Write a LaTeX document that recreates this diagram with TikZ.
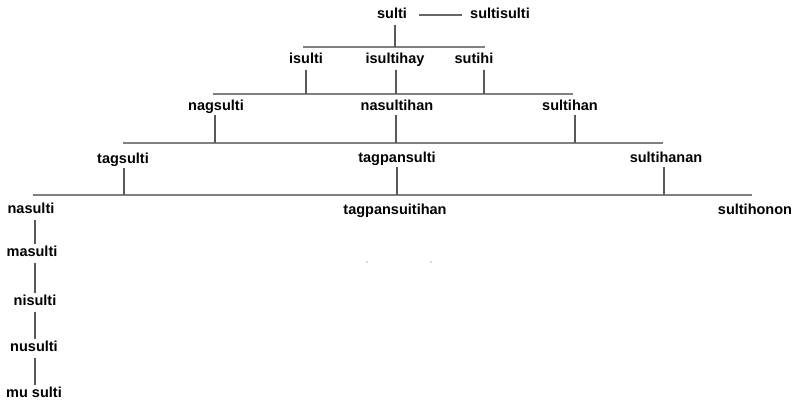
\documentclass[tikz,border=0pt]{standalone}
\usepackage{fontspec}
\setmainfont{Liberation Sans}
\begin{document}
\begin{tikzpicture}[x=1pt,y=-1pt,
  lbl/.style={font=\fontsize{14.5}{16}\selectfont\bfseries, inner sep=0pt, text height=10pt, text depth=3pt, outer sep=3pt, text=black},
  bus/.style={draw=black!50, line width=1.8pt},
  tick/.style={draw=black!65, line width=1.3pt},
  link/.style={draw=black!60, line width=1.3pt}]
\useasboundingbox (0,0) rectangle (796,402);
% row 1
\node[lbl] (sulti) at (392,15) {sulti};
\node[lbl] (sultisulti) at (500,15) {sultisulti};
\draw[link, shorten <=9pt, shorten >=5pt] (sulti.east) -- (sultisulti.west);
\coordinate (b1l) at (303,47);
\coordinate (b1r) at (485,47);
\draw[bus] (b1l) -- (b1r);
\draw[tick] ([xshift=3pt]sulti.south) -- ([xshift=3pt]sulti.south |- b1l);
% row 2
\node[lbl] (isulti) at (306,60) {isulti};
\node[lbl] (isultihay) at (395,60) {isultihay};
\node[lbl] (sutihi) at (474,60) {sutihi};
\coordinate (b2l) at (213,94);
\coordinate (b2r) at (573,94);
\draw[bus] (b2l) -- (b2r);
\draw[tick] (isulti.south) -- (isulti.south |- b2l);
\draw[tick] ([xshift=1pt]isultihay.south) -- ([xshift=1pt]isultihay.south |- b2l);
\draw[tick] ([xshift=10pt]sutihi.south) -- ([xshift=10pt]sutihi.south |- b2l);
% row 3
\node[lbl] (nagsulti) at (216,107) {nagsulti};
\node[lbl] (nasultihan) at (397,107) {nasultihan};
\node[lbl] (sultihan) at (570,107) {sultihan};
\coordinate (b3l) at (123,143);
\coordinate (b3r) at (663,143);
\draw[bus] (b3l) -- (b3r);
\draw[tick] ([xshift=-1pt,yshift=2pt]nagsulti.south) -- ([xshift=-1pt]nagsulti.south |- b3l);
\draw[tick] ([xshift=-1pt,yshift=2pt]nasultihan.south) -- ([xshift=-1pt]nasultihan.south |- b3l);
\draw[tick] ([xshift=5pt,yshift=2pt]sultihan.south) -- ([xshift=5pt]sultihan.south |- b3l);
% row 4
\node[lbl] (tagsulti) at (123,160) {tagsulti};
\node[lbl] (tagpansulti) at (397,159) {tagpansulti};
\node[lbl] (sultihanan) at (666,159) {sultihanan};
\coordinate (b4l) at (33,195);
\coordinate (b4r) at (752,195);
\draw[bus] (b4l) -- (b4r);
\draw[tick] ([xshift=1pt,yshift=2pt]tagsulti.south) -- ([xshift=1pt]tagsulti.south |- b4l);
\draw[tick] ([yshift=2pt]tagpansulti.south) -- (tagpansulti.south |- b4l);
\draw[tick] ([xshift=-2pt,yshift=2pt]sultihanan.south) -- ([xshift=-2pt]sultihanan.south |- b4l);
% row 5
\node[lbl] (nasulti) at (31,210) {nasulti};
\node[lbl] (tagpansuitihan) at (395,211) {tagpansuitihan};
\node[lbl] (sultihonon) at (755,211) {sultihonon};
% column
\node[lbl] (masulti) at (32,253) {masulti};
\node[lbl] (nisulti) at (35,302) {nisulti};
\node[lbl] (nusulti) at (34,348) {nusulti};
\node[lbl] (musulti) at (34,394) {mu sulti};
\coordinate (colx) at (35,0);
\draw[tick] (colx |- nasulti.south) -- (colx |- masulti.north);
\draw[tick] (colx |- masulti.south) -- (colx |- nisulti.north);
\draw[tick] (colx |- nisulti.south) -- (colx |- nusulti.north);
\draw[tick] (colx |- nusulti.south) -- (colx |- musulti.north);
% stray dots
\fill[black!30] (367,262) circle (0.9pt);
\fill[black!30] (431,262) circle (0.9pt);
\end{tikzpicture}
\end{document}
